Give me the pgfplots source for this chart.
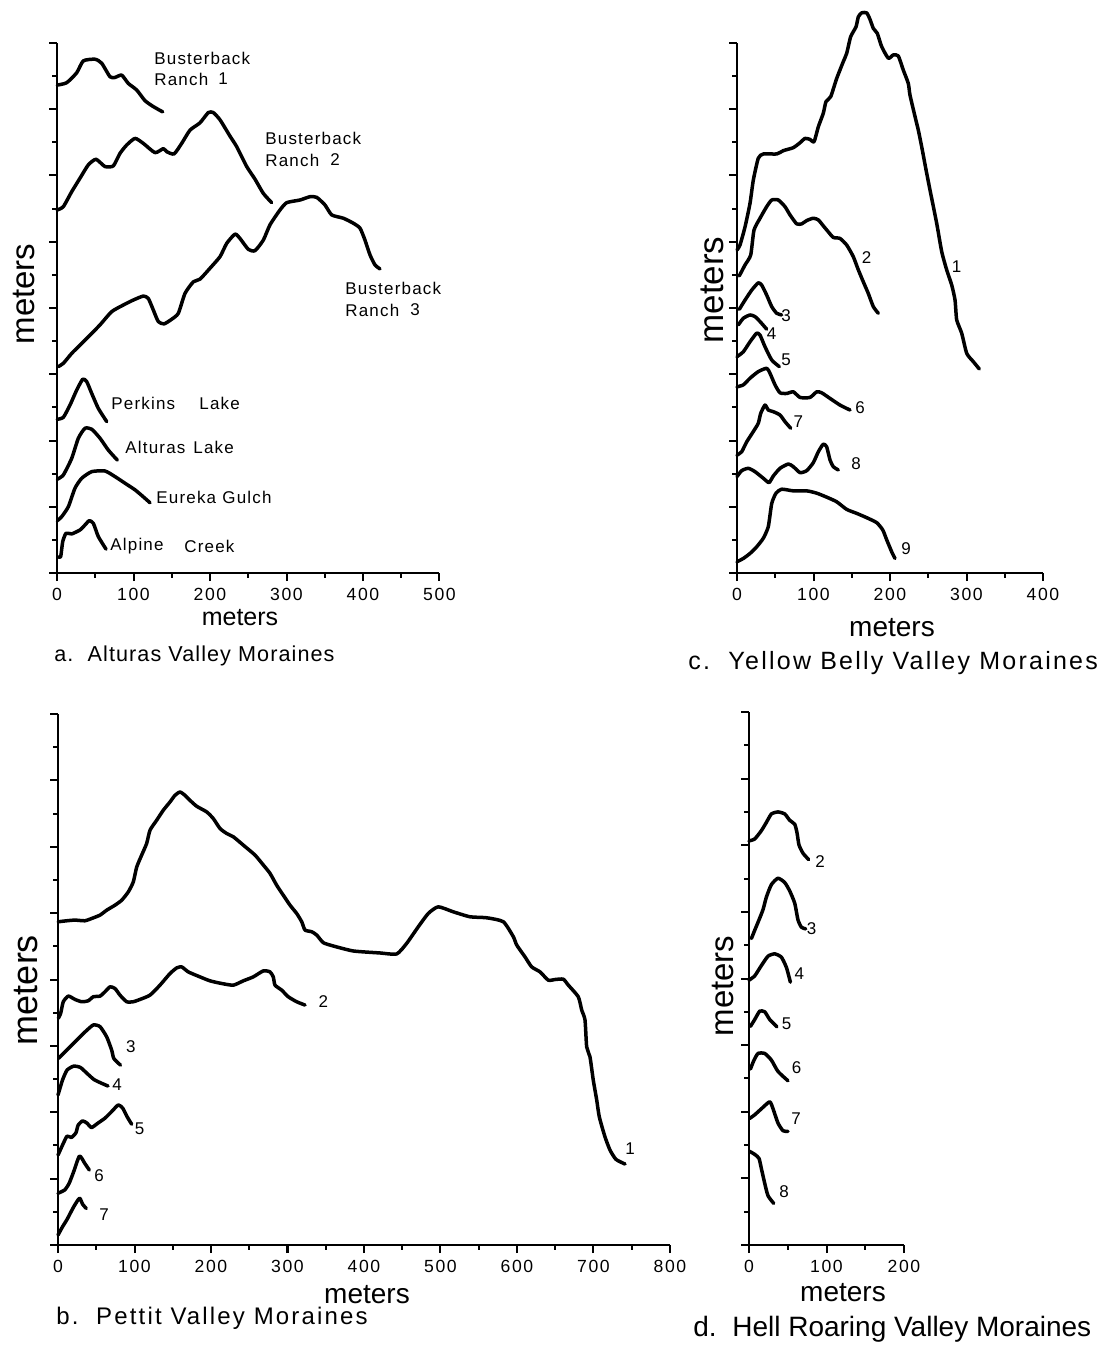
\documentclass[border=0pt]{standalone}
\usepackage{fontspec}
\setmainfont{Liberation Sans}
\newfontfamily\sm[LetterSpace=7]{Liberation Sans}
\newfontfamily\tk[LetterSpace=9]{Liberation Sans}
\newfontfamily\ttl[LetterSpace=9]{Liberation Sans}
\newfontfamily\ttla[LetterSpace=5]{Liberation Sans}
\usepackage{pgfplots}
\pgfplotsset{compat=1.18}
\newcommand\fs[1]{\fontsize{#1}{#1}\selectfont}

\pgfplotsset{moraine/.style={
  scale only axis, clip=false, anchor=south west,
  axis x line*=bottom, axis y line*=left,
  axis line style={line width=1.1pt,-},
  xmin=0, ymin=0, ymax=16,
  ytick={0,2,...,16}, minor ytick={1,3,...,15}, yticklabels={},
  xtick distance=100, minor x tick num=1,
  tick align=outside, major tick length=4pt, minor tick length=2.4pt,
  tick style={line width=1pt, black},
  tick label style={font=\fs{8.8}\tk},
  /pgf/number format/assume math mode=true,
  cycle list={{black}},
  every axis plot post/.append style={line width=1.75pt, black, mark=none, smooth, tension=0.35, line join=round, line cap=round},
}}

\begin{document}
\begin{tikzpicture}
\path[use as bounding box] (0,0) rectangle (551.5pt,-676.5pt);

% a. Alturas Valley
\begin{axis}[moraine, at={(28.5pt,-286.5pt)}, width=191.25pt, height=265pt, xmax=500]
\addplot coordinates {(0.4,14.73)(12.6,14.80)(25.7,15.10)(34.4,15.46)(49.7,15.51)(58.4,15.39)(69.3,14.98)(75.8,14.96)(84.6,15.03)(93.2,14.78)(104.2,14.58)(115,14.26)(125.9,14.08)(138.2,13.92)};
\addplot coordinates {(0.4,10.96)(8.3,11.06)(19.2,11.51)(30.1,11.92)(40.9,12.32)(51,12.49)(62.7,12.27)(73.6,12.29)(82.4,12.67)(91.1,12.92)(102,13.12)(112.8,12.97)(128.1,12.69)(139,12.81)(143.4,12.72)(153,12.65)(163,12.97)(173.9,13.37)(186.9,13.59)(197.8,13.90)(204.3,13.90)(213.1,13.68)(226.1,13.19)(234.9,12.87)(248,12.27)(258.8,11.89)(269.7,11.46)(280.6,11.18)};
\addplot coordinates {(1.7,6.23)(8.3,6.33)(19.2,6.63)(30.1,6.88)(43.1,7.18)(56.2,7.49)(71.5,7.89)(86.7,8.09)(99.7,8.24)(112.8,8.36)(119.3,8.29)(125.9,7.94)(132.4,7.59)(139.9,7.52)(149.9,7.66)(158.6,7.84)(167.3,8.44)(178.2,8.79)(186.9,8.87)(200,9.20)(213.1,9.55)(221.8,9.95)(232.7,10.23)(239.2,10.10)(250.1,9.77)(258.8,9.73)(269.7,10.05)(278.4,10.51)(291.5,10.96)(300.3,11.18)(317.6,11.26)(330.7,11.36)(339.5,11.34)(350.3,11.11)(359.1,10.81)(374.3,10.71)(387.3,10.56)(396.1,10.41)(402.6,10.05)(409.2,9.60)(415.7,9.30)(422.2,9.18)};
\addplot coordinates {(0.4,4.64)(8.3,4.70)(17,5.07)(25.7,5.52)(33.6,5.85)(38.8,5.78)(45.4,5.42)(54,4.97)(65,4.57)};
\addplot coordinates {(0.4,2.83)(8.3,2.96)(19.2,3.46)(27.9,4.07)(36.6,4.37)(45.4,4.34)(56.2,4.07)(67.1,3.71)(78.8,3.41)};
\addplot coordinates {(0.4,1.58)(6.1,1.70)(14.8,2.00)(23.5,2.56)(32.3,2.86)(45.4,3.06)(62.7,3.08)(75.8,2.91)(88.9,2.71)(102,2.51)(112.8,2.30)(121.6,2.12)};
\addplot+[sharp plot] coordinates {(1.7,0.49)(4.8,0.49)(7.5,0.95)(11.8,1.20)(19.2,1.18)(30.1,1.30)(36.6,1.45)(42.2,1.58)(47.5,1.50)(54,1.10)(64.1,0.72)};
\end{axis}

% c. Yellow Belly Valley
\begin{axis}[moraine, at={(368.5pt,-286.5pt)}, width=153pt, height=265pt, xmax=400]
\addplot coordinates {(0,9.75)(3.9,9.90)(10.5,10.45)(17,11.16)(21.3,11.86)(27.8,12.52)(34.4,12.65)(51.9,12.65)(60.5,12.75)(73.6,12.84)(82.4,12.99)(88.9,13.12)(95.4,13.09)(100.7,13.02)(106.3,13.47)(112.8,13.88)(116.3,14.23)(122.5,14.38)(130.3,14.93)(139,15.44)(143.4,15.69)(148.6,16.19)(155.6,16.49)(158.6,16.79)(163,16.91)(169.5,16.91)(173.9,16.71)(178.2,16.44)(183.4,16.29)(189.1,15.89)(197.8,15.54)(204.3,15.64)(210.8,15.61)(217.4,15.18)(223.9,14.78)(226.1,14.43)(232.7,13.78)(237,13.37)(241.4,12.87)(247.1,12.17)(252.3,11.56)(261,10.56)(267.6,9.70)(274.1,9.15)(280.7,8.69)(285,8.24)(287.2,7.64)(293.7,7.24)(300.3,6.63)(308.9,6.38)(316.7,6.16)};
\addplot coordinates {(3,8.97)(10.5,9.30)(17.9,9.60)(22.2,10.35)(30.1,10.71)(38.8,11.06)(45.4,11.26)(54,11.26)(62.7,11.06)(69.3,10.81)(78,10.54)(84.6,10.54)(91.1,10.64)(99.7,10.71)(106.3,10.66)(112.8,10.48)(119.3,10.30)(125.9,10.13)(134.6,10.10)(143.4,9.90)(152,9.55)(158.6,9.15)(165.1,8.79)(171.6,8.44)(178.2,8.04)(184.7,7.84)};
\addplot coordinates {(3,7.96)(10.5,8.24)(19.2,8.54)(27.8,8.76)(32.3,8.69)(38.8,8.39)(45.4,8.04)(51.9,7.84)(58.4,7.79)};
\addplot coordinates {(1.7,7.49)(8.3,7.69)(17,7.79)(23.5,7.74)(30.1,7.59)(38.8,7.36)};
\addplot coordinates {(0,6.53)(8.3,6.68)(17,6.98)(25.7,7.24)(30.1,7.18)(36.6,6.83)(45.4,6.43)(55.3,6.23)};
\addplot coordinates {(0,5.62)(8.3,5.68)(17,5.88)(27.8,6.08)(38.8,6.18)(43.1,6.03)(49.7,5.68)(56.2,5.44)(65,5.42)(73.6,5.47)(82.4,5.30)(95.4,5.30)(104.2,5.47)(110.7,5.44)(121.6,5.27)(134.6,5.07)(147.7,4.92)};
\addplot coordinates {(0,3.56)(6.1,3.66)(12.7,3.96)(21.3,4.27)(27.8,4.52)(31,4.82)(36.6,5.07)(40.9,4.92)(47.5,4.87)(56.2,4.77)(62.7,4.57)(70.2,4.37)};
\addplot coordinates {(0,2.91)(6.1,3.09)(14.8,3.16)(23.5,3.06)(34.4,2.86)(41.8,2.73)(47.5,2.93)(56.2,3.16)(67.1,3.29)(73.6,3.21)(82.4,3.03)(91.1,3.09)(99.7,3.33)(106.3,3.66)(112.8,3.89)(117.2,3.81)(121.6,3.41)(125.9,3.21)(132.4,3.11)};
\addplot coordinates {(0,0.34)(8.3,0.44)(17,0.59)(25.7,0.79)(34.4,1.05)(40.9,1.40)(45.4,2.10)(51,2.41)(58.4,2.53)(73.6,2.48)(91.1,2.48)(104.2,2.41)(117.2,2.29)(130.3,2.15)(143.4,1.92)(156.5,1.80)(169.5,1.67)(182.6,1.52)(190.5,1.30)(195.7,1.00)(202.2,0.64)(206.5,0.44)};
\end{axis}

% b. Pettit Valley
\begin{axis}[moraine, at={(29pt,-622.5pt)}, width=306pt, height=265.5pt, xmax=800]
\addplot+[line width=1.5pt] coordinates {(0.4,9.74)(11.4,9.77)(22.2,9.79)(35.3,9.77)(44.1,9.84)(54.9,9.94)(63.7,10.09)(74.5,10.24)(83.3,10.39)(91.9,10.64)(98.4,10.94)(102.9,11.39)(109.4,11.75)(115.9,12.10)(120.3,12.50)(129,12.80)(137.6,13.10)(146.4,13.35)(152.9,13.55)(159.5,13.65)(166,13.55)(172.5,13.40)(181.3,13.22)(194.4,13.05)(203,12.85)(211.8,12.55)(220.5,12.40)(229.2,12.30)(242.2,12.05)(257.5,11.75)(268.4,11.45)(277.1,11.20)(285.9,10.84)(294.5,10.54)(303.3,10.24)(312,9.99)(318.6,9.74)(322.9,9.49)(331.6,9.44)(338.2,9.34)(346.8,9.11)(359.9,9.01)(386,8.86)(420.9,8.80)(442.7,8.77)(455.8,9.09)(471,9.59)(484,9.99)(497.1,10.19)(516.7,10.04)(538.6,9.89)(560.4,9.86)(582.1,9.74)(595.2,9.29)(599.6,9.04)(610.5,8.68)(619.2,8.38)(630.1,8.23)(640.9,7.98)(649.7,8.00)(660.5,8.01)(667.1,7.83)(680.1,7.48)(684.6,7.08)(688.9,6.78)(691.1,5.97)(695.4,5.67)(699.7,4.97)(704.2,4.37)(707.6,3.86)(715,3.26)(721.6,2.86)(729.4,2.58)(741.2,2.44)};
\addplot+[line width=1.5pt] coordinates {(0.4,6.83)(3.5,6.98)(6.9,7.33)(13.5,7.50)(22.2,7.40)(31,7.33)(39.6,7.36)(46.1,7.48)(54.9,7.50)(61.4,7.63)(68,7.78)(74.5,7.73)(81,7.53)(89.8,7.33)(98.4,7.33)(107.2,7.40)(120.3,7.53)(133.3,7.83)(146.4,8.18)(155.2,8.35)(161.7,8.38)(170.3,8.23)(183.4,8.10)(198.7,7.96)(214,7.88)(229.2,7.83)(242.2,7.96)(255.3,8.08)(268.4,8.26)(277.1,8.23)(281.4,8.08)(283.7,7.83)(292.4,7.68)(301,7.48)(312,7.33)(322.9,7.23)};
\addplot coordinates {(0.4,5.62)(11.4,5.87)(24.4,6.17)(35.3,6.42)(46.1,6.63)(54.9,6.58)(63.7,6.27)(70.2,5.87)(73,5.62)(81.7,5.42)};
\addplot coordinates {(0,4.52)(5.9,4.97)(11.8,5.27)(20.5,5.39)(29.3,5.35)(38,5.17)(46.8,4.99)(55.4,4.89)(65.4,4.79)};
\addplot coordinates {(0,2.71)(5.9,3.01)(11.8,3.28)(17.5,3.24)(23.4,3.38)(26.3,3.61)(32.2,3.74)(38,3.67)(43.8,3.54)(52.6,3.68)(61.3,3.82)(70.1,4.02)(78.8,4.22)(84.7,4.12)(90.5,3.86)(96.3,3.64)};
\addplot coordinates {(0,1.56)(8.8,1.66)(14.6,1.86)(20.5,2.21)(28.1,2.68)(35,2.46)(40.9,2.26)};
\addplot coordinates {(0,0.30)(5.9,0.55)(11.8,0.77)(20.5,1.15)(28.1,1.41)(32.2,1.23)(36.9,1.10)};
\end{axis}

% d. Hell Roaring Valley
\begin{axis}[moraine, at={(374.5pt,-622.5pt)}, width=77.5pt, height=266.5pt, xmax=200]
\addplot coordinates {(0,12.13)(7.4,12.19)(16,12.44)(22.5,12.69)(28.9,12.94)(37.4,13.00)(46.1,12.94)(52.5,12.75)(59,12.63)(61.9,12.38)(64.5,12.01)(69.7,11.76)(77,11.57)};
\addplot coordinates {(3.1,9.20)(7.4,9.45)(12.9,9.76)(18.1,10.07)(22.5,10.45)(28.9,10.82)(37.4,11.01)(46.1,10.88)(52.5,10.63)(59,10.26)(63.2,9.76)(67.6,9.54)(73.2,9.49)};
\addplot coordinates {(0,7.95)(7.4,8.08)(16,8.39)(24.5,8.67)(33.2,8.74)(41.8,8.64)(48.3,8.33)(53.4,7.89)};
\addplot coordinates {(1.8,6.56)(7.4,6.77)(13.8,7.02)(20.3,7.00)(26.7,6.77)(36.1,6.55)};
\addplot coordinates {(1.8,5.28)(6.1,5.53)(11.6,5.75)(20.3,5.75)(28.9,5.55)(37.4,5.21)(50.3,4.93)};
\addplot coordinates {(0.9,3.80)(7.4,3.91)(16,4.09)(26.7,4.30)(31,4.09)(37.4,3.66)(43.9,3.43)(50.3,3.41)};
\addplot coordinates {(0.9,2.81)(7.4,2.72)(12.9,2.60)(16,2.29)(20.3,1.85)(24.5,1.48)(31.9,1.25)};
\end{axis}

\begin{scope}[x=0.5pt,y=-0.5pt, every node/.style={inner sep=0pt}]
% panel a texts
\begin{scope}[every node/.style={inner sep=0pt, anchor=west, font=\fs{8.5}\sm}]
\node at (154,58) {Busterback};
\node at (154,79) {Ranch}; \node at (218,79) {1};
\node at (265,138) {Busterback};
\node at (265,160) {Ranch}; \node at (330,160) {2};
\node at (345,288) {Busterback};
\node at (345,310) {Ranch}; \node at (410,310) {3};
\node at (111,403) {Perkins}; \node at (199,403) {Lake};
\node at (125,447) {Alturas}; \node at (193,447) {Lake};
\node at (156,497) {Eureka}; \node at (222,497) {Gulch};
\node at (110,546) {Alpine}; \node at (184,546) {Creek};
\end{scope}
\node[font=\fs{12.5}] at (240,618) {meters};
\node[font=\fs{16.5}, rotate=90] at (24,294) {meters};
\node[anchor=west, font=\fs{10.8}\ttla] at (54,656) {a.\ \ Alturas Valley Moraines};

% panel c texts
\begin{scope}[every node/.style={inner sep=0pt, font=\fs{8.5}\sm}]
\node at (956.7,266.7) {1}; \node at (866.7,258) {2}; \node at (786,316) {3};
\node at (771.7,333.3) {4}; \node at (786,359.3) {5}; \node at (860,407.3) {6};
\node at (798.3,421.7) {7}; \node at (856,463.3) {8}; \node at (906,548.3) {9};
\end{scope}
\node[font=\fs{14}] at (892,628) {meters};
\node[font=\fs{17.5}, rotate=90] at (712,290) {meters};
\node[anchor=west, font=\fs{12.5}\ttl] at (688,663) {c.\ \ Yellow Belly Valley Moraines};

% panel b texts
\begin{scope}[every node/.style={inner sep=0pt, font=\fs{8.5}\sm}]
\node at (630,1148.3) {1}; \node at (323.3,1001.7) {2}; \node at (130.8,1046.7) {3};
\node at (117,1085) {4}; \node at (139.7,1128.3) {5}; \node at (99.1,1176) {6};
\node at (104,1215) {7};
\end{scope}
\node[font=\fs{14}] at (367,1295) {meters};
\node[font=\fs{18}, rotate=90] at (26,990) {meters};
\node[anchor=west, font=\fs{12}\ttl] at (56,1318) {b.\ \ Pettit Valley Moraines};

% panel d texts
\begin{scope}[every node/.style={inner sep=0pt, font=\fs{8.5}\sm}]
\node at (820,861.8) {2}; \node at (811.7,929) {3}; \node at (799.3,973.9) {4};
\node at (786.7,1023.6) {5}; \node at (796.7,1067.2) {6}; \node at (796,1119.1) {7};
\node at (784,1191.7) {8};
\end{scope}
\node[font=\fs{14}] at (843,1293) {meters};
\node[font=\fs{16.5}, rotate=90] at (723,986) {meters};
\node[anchor=west, font=\fs{14}] at (693,1329) {d.\ \ Hell Roaring Valley Moraines};
\end{scope}
\end{tikzpicture}
\end{document}
